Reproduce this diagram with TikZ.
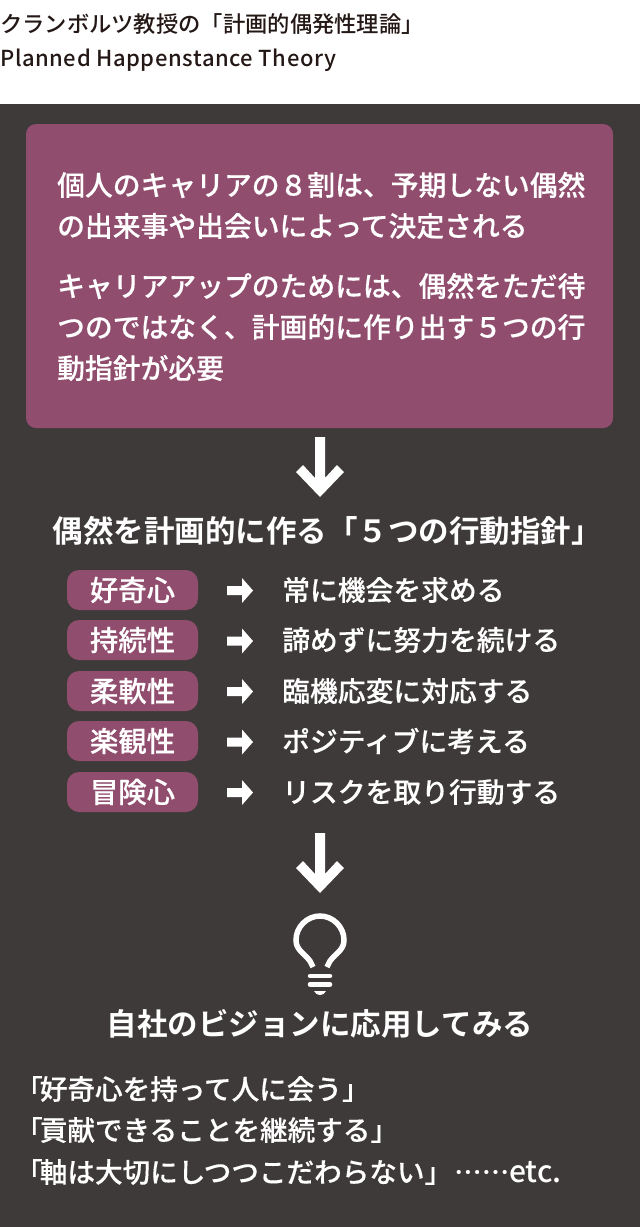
\documentclass[tikz,border=0pt]{standalone}
\usepackage{fontspec}
\newfontfamily\jp{Noto Sans CJK JP Medium}[Script=CJK,Language=Japanese,FakeBold=0.25]
\newfontfamily\jpt{Noto Sans CJK JP Medium}[Script=CJK,Language=Japanese]
\newfontfamily\jpb{Noto Sans CJK JP Bold}[Script=CJK,Language=Japanese]
\definecolor{panel}{HTML}{3E3A39}
\definecolor{plum}{HTML}{904D6D}
\definecolor{ink}{HTML}{231815}
\newcommand{\fs}[1]{\fontsize{#1}{#1}\selectfont\jp}
\newcommand{\ft}[1]{\fontsize{#1}{#1}\selectfont\jpt}
\newcommand{\fb}[1]{\fontsize{#1}{#1}\selectfont\jpb}
\tikzset{
  x=1pt,y=-1pt,
  txt/.style={anchor=west,inner sep=0pt,text=white,font=\fs{27.8}},
  btxt/.style={anchor=west,inner sep=0pt,text=white,font=\fs{27.6}},
  head/.style={anchor=center,inner sep=0pt,text=white,font=\fb{30.5}},
  title/.style={anchor=west,inner sep=0pt,text=ink},
  pill/.style={fill=plum,rounded corners=12pt,minimum width=131pt,minimum height=40pt,inner sep=0pt,text=white,font=\fs{28.4}},
  glyph/.style={fill=white,draw=none},
}
\newcommand{\bigarrow}[1]{\fill[glyph,shift={(320,#1)}] (-5,0) -- (5,0) -- (5,41) -- (17,28) -- (24,35) -- (0,60) -- (-24,35) -- (-17,28) -- (-5,41) -- cycle;}
\newcommand{\smallarrow}[1]{\fill[glyph,shift={(0,#1)}] (227,-4.5) -- (242,-4.5) -- (242,-12.5) -- (253,0) -- (242,12.5) -- (242,4.5) -- (227,4.5) -- cycle;}
\begin{document}
\begin{tikzpicture}
\useasboundingbox (0,0) rectangle (640,1227);
\fill[white] (0,0) rectangle (640,1227);
\fill[panel] (0,104) rectangle (640,1227);
\node[title,font=\ft{22.3}] (t1) at (0,24) {クランボルツ教授の「計画的偶発性理論」};
\node[title,font=\ft{22}] (t2) at (0,60) {\addfontfeature{LetterSpace=2.6}Planned Happenstance Theory};
\fill[plum,rounded corners=10pt] (26,124) rectangle (613,428);
\node[txt] (l1) at (57,185) {個人のキャリアの８割は、予期しない偶然};
\node[txt] (l2) at (57,226) {の出来事や出会いによって決定される};
\node[txt] (l3) at (57,286) {キャリアアップのためには、偶然をただ待};
\node[txt] (l4) at (57,327) {つのではなく、計画的に作り出す５つの行};
\node[txt] (l5) at (57,368) {動指針が必要};
\bigarrow{437}
\node[head] (h1) at (327,531) {偶然を計画的に作る「５つの行動指針」};
\node[pill] (p1) at (132.5,590) {好奇心};
\node[pill] (p2) at (132.5,640) {持続性};
\node[pill] (p3) at (132.5,691) {柔軟性};
\node[pill] (p4) at (132.5,741) {楽観性};
\node[pill] (p5) at (132.5,792) {冒険心};
\smallarrow{590.5}\smallarrow{641}\smallarrow{691.5}\smallarrow{742}\smallarrow{792.5}
\node[txt] (r1) at (282,590) {常に機会を求める};
\node[txt] (r2) at (282,640) {諦めずに努力を続ける};
\node[txt] (r3) at (282,691) {臨機応変に対応する};
\node[txt] (r4) at (282,741) {ポジティブに考える};
\node[txt] (r5) at (282,792) {リスクを取り行動する};
\bigarrow{833}
\draw[white,line width=5.5pt] (313,967) -- (310,961) .. controls (304,953) and (296,950) .. (296,940) .. controls (296,927) and (307,916) .. (320,916) .. controls (333,916) and (344,927) .. (344,940) .. controls (344,950) and (336,953) .. (330,961) -- (327,967);
\draw[white,line width=4.5pt,line cap=round] (310,976) -- (330,976);
\draw[white,line width=4.5pt,line cap=round] (310,984.5) -- (330,984.5);
\fill[white] (314,991) -- (326,991) .. controls (325,994) and (322,995) .. (320,995) .. controls (318,995) and (315,994) .. (314,991) -- cycle;
\node[head] (h2) at (320,1024) {自社のビジョンに応用してみる};
\node[btxt] (b1) at (15,1089) {「\kern-3pt 好奇心を持って人に会う」};
\node[btxt] (b2) at (15,1130) {「\kern-3pt 貢献できることを継続する」};
\node[btxt] (b3) at (15,1172) {「\kern-3pt 軸は大切にしつつこだわらない」\kern2pt ……\kern0pt{\ft{30}etc.}};
\end{tikzpicture}
\end{document}
